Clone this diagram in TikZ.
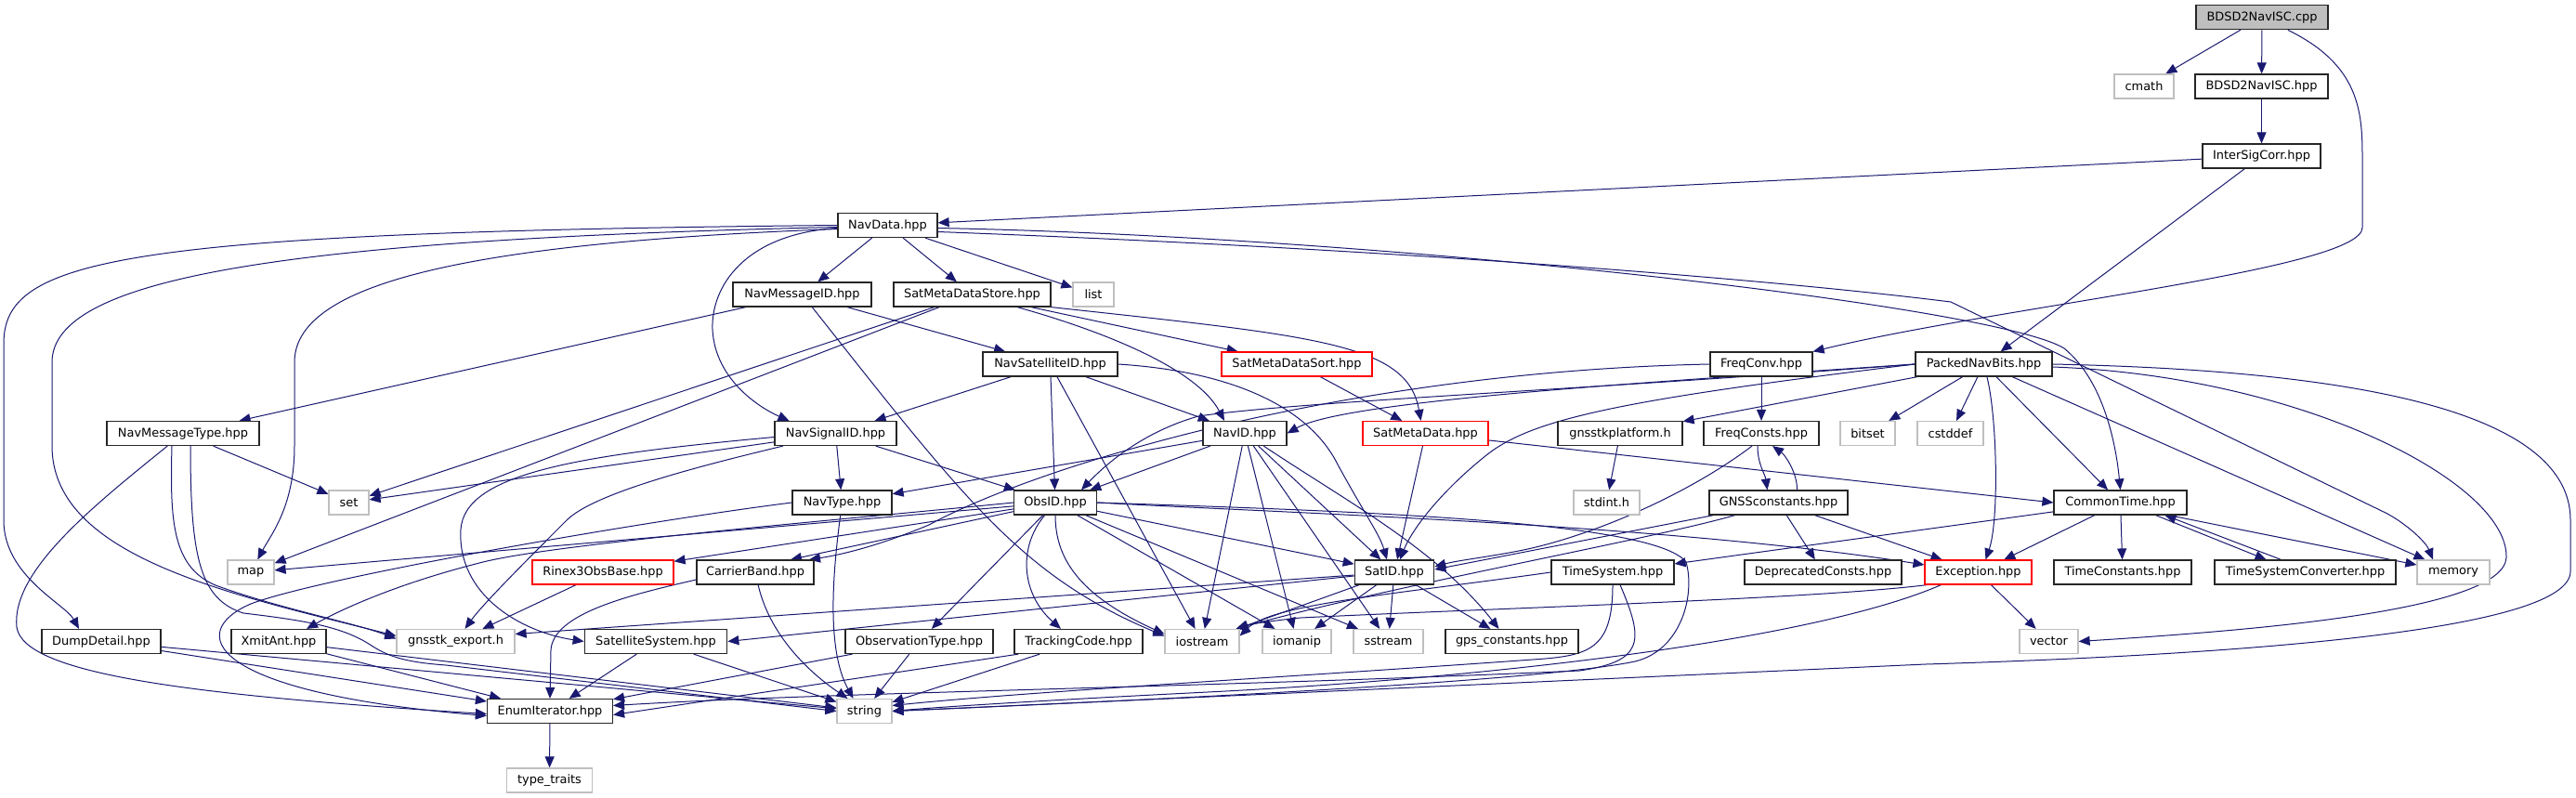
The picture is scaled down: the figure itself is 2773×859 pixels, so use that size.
\documentclass[tikz,border=0pt]{standalone}
\usepackage{fontspec}
\setmainfont{DejaVu Sans}
\usetikzlibrary{arrows.meta}
\definecolor{edgec}{HTML}{191970}
\definecolor{grayb}{HTML}{BFBFBF}
\pgfdeclarelayer{bg}
\pgfsetlayers{bg,main}
\begin{document}
\begin{tikzpicture}[x=1pt,y=-1pt,
  nd/.style={draw=black!85, line width=1.2pt, fill=white, minimum height=26pt, inner sep=0pt, font=\fontsize{12.9pt}{15pt}\selectfont},
  gy/.style={nd, draw=grayb},
  rd/.style={nd, draw=red},
  root/.style={nd, fill=grayb},
  mw/.style={minimum width=#1pt},
  e/.style={edgec, line width=1pt, -{Triangle[length=12pt,width=10pt]}},
]
\useasboundingbox (0,0) rectangle (2773,859);
\node[root,mw=142] (cpp) at (2435,18.7) {BDSD2NavISC.cpp};
\node[gy,mw=64] (cmath) at (2308,93) {cmath};
\node[nd,mw=143] (bdhpp) at (2434.5,93) {BDSD2NavISC.hpp};
\node[nd,mw=127] (isc) at (2434.5,168) {InterSigCorr.hpp};
\node[nd,mw=107] (navdata) at (955.5,242.5) {NavData.hpp};
\node[nd,mw=149] (navmsgid) at (863.5,317) {NavMessageID.hpp};
\node[nd,mw=169] (smds) at (1046.5,317) {SatMetaDataStore.hpp};
\node[gy,mw=44] (list) at (1177,317) {list};
\node[nd,mw=145] (navsatid) at (1130.5,392) {NavSatelliteID.hpp};
\node[rd,mw=162] (smdsort) at (1396,392) {SatMetaDataSort.hpp};
\node[nd,mw=110] (freqconv) at (1896,392) {FreqConv.hpp};
\node[nd,mw=147] (packed) at (2135.5,392) {PackedNavBits.hpp};
\node[nd,mw=164] (navmsgtype) at (197,466.5) {NavMessageType.hpp};
\node[nd,mw=131] (navsigid) at (899.5,466.5) {NavSignalID.hpp};
\node[nd,mw=90] (navid) at (1340,466.5) {NavID.hpp};
\node[rd,mw=135] (smd) at (1534.5,466.5) {SatMetaData.hpp};
\node[nd,mw=134] (platform) at (1744,466.5) {gnsstkplatform.h};
\node[nd,mw=124] (freqconsts) at (1896,466.5) {FreqConsts.hpp};
\node[gy,mw=59] (bitset) at (2010.5,466.5) {bitset};
\node[gy,mw=71] (cstddef) at (2099.5,466.5) {cstddef};
\node[gy,mw=43] (set) at (375.5,541) {set};
\node[nd,mw=107] (navtype) at (906.5,541) {NavType.hpp};
\node[nd,mw=89] (obsid) at (1136,541) {ObsID.hpp};
\node[gy,mw=71] (stdint) at (1729.5,541) {stdint.h};
\node[nd,mw=149] (gnssconst) at (1914.5,541) {GNSSconstants.hpp};
\node[nd,mw=143] (commontime) at (2282.5,541) {CommonTime.hpp};
\node[gy,mw=50] (map) at (270,616) {map};
\node[rd,mw=152] (rinex) at (649,616) {Rinex3ObsBase.hpp};
\node[nd,mw=126] (carrier) at (813,616) {CarrierBand.hpp};
\node[nd,mw=85.5] (satid) at (1501,616) {SatID.hpp};
\node[nd,mw=132] (timesystem) at (1736,616) {TimeSystem.hpp};
\node[nd,mw=169] (deprecated) at (1962.5,616) {DeprecatedConsts.hpp};
\node[rd,mw=115] (exception) at (2129.5,616) {Exception.hpp};
\node[nd,mw=148] (timeconst) at (2285,616) {TimeConstants.hpp};
\node[nd,mw=195] (tsconv) at (2481.5,616) {TimeSystemConverter.hpp};
\node[gy,mw=78] (memory) at (2641,616) {memory};
\node[nd,mw=128] (dumpdetail) at (109,690.5) {DumpDetail.hpp};
\node[nd,mw=102] (xmitant) at (300,690.5) {XmitAnt.hpp};
\node[gy,mw=127] (gnsstk) at (490.5,690.5) {gnsstk\_export.h};
\node[nd,mw=153.5] (satsys) at (706,690.5) {SatelliteSystem.hpp};
\node[nd,mw=159] (obstype) at (989.5,690.5) {ObservationType.hpp};
\node[nd,mw=138] (tracking) at (1161,690.5) {TrackingCode.hpp};
\node[gy,mw=80] (iostream) at (1294,690.5) {iostream};
\node[gy,mw=74] (iomanip) at (1396,690.5) {iomanip};
\node[gy,mw=75] (sstream) at (1494.5,690.5) {sstream};
\node[nd,mw=143] (gpsconst) at (1627.5,690.5) {gps\_constants.hpp};
\node[gy,mw=63] (vector) at (2205.5,690.5) {vector};
\node[nd,mw=135] (enumiter) at (592,765.5) {EnumIterator.hpp};
\node[gy,mw=59] (string) at (930.5,765.5) {string};
\node[gy,mw=92] (typetraits) at (591.5,840) {type\_traits};

\begin{pgfonlayer}{bg}
\fill[white] (0,0) rectangle (2773,859);
% top
\draw[e] (cpp) -- (cmath);
\draw[e] (cpp) -- (bdhpp);
\draw[e] (cpp) .. controls (2540,70) and (2543,120) .. (2543,170) -- (2543,245) .. controls (2543,290) and (2150,330) .. (freqconv);
\draw[e] (bdhpp) -- (isc);
\draw[e] (isc) -- (navdata);
\draw[e] (isc) -- (packed);
% NavData
\draw[e] (navdata) -- (navmsgid);
\draw[e] (navdata) -- (smds);
\draw[e] (navdata) -- (list);
\draw[e] ([yshift=-3pt]navdata.west) .. controls (800,252) and (765,310) .. (767,355) .. controls (770,410) and (820,440) .. ([xshift=-50pt]navsigid.north);
\draw[e] ([yshift=-4pt]navdata.west) .. controls (480,262) and (317,310) .. (317,390) -- (317,480) .. controls (317,545) and (292,575) .. (map);
\draw[e] ([yshift=-2pt]navdata.west) .. controls (300,258) and (56,300) .. (56,390) -- (56,480) .. controls (56,600) and (250,640) .. ([yshift=6pt]gnsstk.west);
\draw[e] (navdata.west) .. controls (120,250) and (4,280) .. (4,370) -- (4,560) .. controls (4,620) and (70,650) .. ([xshift=-24pt]dumpdetail.north);
\draw[e] ([yshift=-3pt]navdata.east) .. controls (1500,255) and (2150,330) .. (2222,375) .. controls (2265,410) and (2278,480) .. (commontime.north);
\draw[e] ([yshift=-7pt]navdata.east) .. controls (1500,268) and (1900,300) .. (2100,325) -- (2570,553) .. controls (2595,567) and (2612,585) .. ([xshift=-22pt]memory.north);
% NavMessageID
\draw[e] (navmsgid) -- (navmsgtype);
\draw[e] (navmsgid) -- (navsatid);
\draw[e] (navmsgid) .. controls (1040,540) and (1100,620) .. ([yshift=6pt]iostream.west);
% SatMetaDataStore
\draw[e] (smds) -- (set);
\draw[e] (smds) -- (map);
\draw[e] (smds) .. controls (1200,360) and (1290,400) .. ([xshift=-22pt]navid.north);
\draw[e] (smds) -- (smdsort);
\draw[e] (smds.south east) .. controls (1420,362) and (1515,370) .. ([xshift=-5pt]smd.north);
\draw[e] (smdsort) -- (smd);
% NavSatelliteID
\draw[e] (navsatid) -- (navsigid);
\draw[e] (navsatid) -- (obsid);
\draw[e] (navsatid) -- (navid);
\draw[e] (navsatid) -- (iostream);
\draw[e] (navsatid.east) .. controls (1330,400) and (1410,440) .. (1440,500) .. controls (1470,555) and (1485,575) .. ([xshift=-8pt]satid.north);
% FreqConv
\draw[e] (freqconv) -- (freqconsts);
\draw[e] (freqconv.west) .. controls (1450,400) and (1120,500) .. (1000,565) .. controls (940,590) and (900,598) .. ([xshift=58pt]carrier.north);
% PackedNavBits
\draw[e] (packed.west) .. controls (1700,420) and (1400,432) .. (1290,448) .. controls (1230,465) and (1190,500) .. ([xshift=28pt]obsid.north);
\draw[e] (packed.west) .. controls (1800,410) and (1450,430) .. (navid.east);
\draw[e] (packed.west) .. controls (1750,430) and (1650,450) .. (1600,490) .. controls (1550,530) and (1520,570) .. ([xshift=6pt]satid.north);
\draw[e] (packed) -- (platform);
\draw[e] (packed) -- (bitset);
\draw[e] (packed) -- (cstddef);
\draw[e] (packed) -- (commontime);
\draw[e] (packed) .. controls (2150,450) and (2152,560) .. ([xshift=8pt]exception.north);
\draw[e] (packed) -- (memory);
\draw[e] ([yshift=-3pt]packed.east) .. controls (2480,405) and (2700,520) .. (2698,600) .. controls (2695,660) and (2400,680) .. (vector.east);
\draw[e] (packed.east) .. controls (2600,400) and (2767,460) .. (2767,560) -- (2767,615) .. controls (2767,680) and (2400,705) .. (2073,715) -- (string.east);
% NavMessageType
\draw[e] (navmsgtype) -- (set);
\draw[e] (navmsgtype) .. controls (100,545) and (12,615) .. (18,675) .. controls (25,725) and (200,748) .. ([yshift=-3pt]enumiter.west);
\draw[e] ([xshift=-12pt]navmsgtype.south) .. controls (183,560) and (185,610) .. (232,630) .. controls (300,655) and (380,670) .. ([yshift=3pt]gnsstk.west);
\draw[e] ([xshift=8pt]navmsgtype.south) .. controls (205,600) and (215,645) .. (262,660) .. controls (330,668) and (370,675) .. (400,695) .. controls (420,708) and (440,713) .. (480,716) -- (string.west);
% NavSignalID
\draw[e] (navsigid) -- (navtype);
\draw[e] (navsigid) -- (obsid);
\draw[e] (navsigid) -- (set);
\draw[e] ([yshift=-4pt]navsigid.west) .. controls (620,490) and (500,510) .. (496,570) .. controls (492,640) and (560,680) .. (satsys.west);
\draw[e] (navsigid) .. controls (760,500) and (640,530) .. (610,560) .. controls (570,600) and (520,650) .. ([xshift=10pt]gnsstk.north);
% NavID
\draw[e] (navid) -- (navtype);
\draw[e] (navid) -- (obsid);
\draw[e] (navid) -- (iostream);
\draw[e] (navid) -- (iomanip);
\draw[e] (navid) -- (satid);
\draw[e] (navid) -- (sstream);
\draw[e] (navid) .. controls (1450,540) and (1545,590) .. ([xshift=-14pt]gpsconst.north);
% SatMetaData
\draw[e] (smd) -- (satid);
\draw[e] (smd) -- (commontime.west);
% misc rank 6/7
\draw[e] (platform) -- (stdint);
\draw[e] ([xshift=-4pt]freqconsts.south) .. controls (1892,500) and (1900,510) .. ([xshift=-12pt]gnssconst.north);
\draw[e] ([xshift=20pt]gnssconst.north) .. controls (1935,510) and (1922,490) .. ([xshift=12pt]freqconsts.south);
\draw[e] ([xshift=-10pt]freqconsts.south) .. controls (1820,530) and (1720,575) .. (1640,592) .. controls (1600,600) and (1570,603) .. ([yshift=6pt]satid.east);
\draw[e] (gnssconst) -- ([yshift=3pt]satid.east);
\draw[e] (gnssconst) -- (deprecated);
\draw[e] (gnssconst) -- (exception);
\draw[e] (gnssconst) .. controls (1780,580) and (1500,630) .. ([xshift=-4pt]iostream.north east);
% NavType
\draw[e] (navtype.west) .. controls (700,560) and (350,620) .. (270,650) .. controls (200,680) and (220,745) .. ([yshift=-5pt]enumiter.west);
\draw[e] (navtype) .. controls (896,620) and (890,700) .. ([xshift=-12pt]string.north);
% ObsID
\draw[e] (obsid) -- (map);
\draw[e] (obsid) -- (rinex);
\draw[e] (obsid) -- ([xshift=38pt]carrier.north);
\draw[e] (obsid.west) .. controls (900,560) and (600,585) .. (520,605) .. controls (420,630) and (360,660) .. ([xshift=30pt]xmitant.north);
\draw[e] (obsid) -- (obstype);
\draw[e] (obsid) .. controls (1095,590) and (1100,640) .. ([xshift=-19pt]tracking.north);
\draw[e] (obsid) .. controls (1136,600) and (1160,640) .. ([yshift=8pt]iostream.west);
\draw[e] (obsid) -- (iomanip);
\draw[e] (obsid) -- (sstream);
\draw[e] (obsid) -- (satid);
\draw[e] (obsid.east) .. controls (1400,553) and (1800,565) .. ([yshift=8pt]exception.west);
\draw[e] (obsid.east) .. controls (1450,550) and (1780,560) .. (1815,605) .. controls (1825,640) and (1810,700) .. (1760,712) .. controls (1650,735) and (1200,755) .. (string.east);
% CommonTime
\draw[e] (commontime) -- (timesystem);
\draw[e] (commontime) -- (exception);
\draw[e] (commontime) -- (timeconst);
\draw[e] ([xshift=38pt]commontime.south) -- ([xshift=-42pt]tsconv.north);
\draw[e] ([xshift=-26pt]tsconv.north) -- ([xshift=48pt]commontime.south);
\draw[e] ([xshift=-20pt]commontime.south east) -- ([yshift=8pt]memory.west);
% rank 8
\draw[e] (rinex) -- (gnsstk);
\draw[e] ([yshift=-8pt]carrier.west) .. controls (680,640) and (595,660) .. (593,700) -- (enumiter.north);
\draw[e] (carrier) .. controls (830,690) and (880,730) .. ([xshift=-18pt]string.north);
\draw[e] ([yshift=-4pt]satid.west) -- (satsys.east);
\draw[e] (satid) -- ([yshift=8pt]gnsstk.east);
\draw[e] (satid) -- (iostream);
\draw[e] (satid) -- (iomanip);
\draw[e] (satid) -- (sstream);
\draw[e] (satid) -- (gpsconst);
\draw[e] (timesystem.west) .. controls (1500,640) and (1370,650) .. ([yshift=6pt]iostream.east);
\draw[e] (timesystem.south) .. controls (1736,700) and (1710,706) .. (1650,710) .. controls (1400,728) and (1100,745) .. ([yshift=6pt]string.east);
\draw[e] ([xshift=8pt]timesystem.south) .. controls (1770,690) and (1770,712) .. (1700,722) .. controls (1300,740) and (900,745) .. ([yshift=6pt]enumiter.east);
\draw[e] ([xshift=3pt]exception.south west) .. controls (1950,645) and (1600,655) .. (1400,665) .. controls (1370,668) and (1345,672) .. ([xshift=-4pt]iostream.north east);
\draw[e] ([xshift=-40pt]exception.south) .. controls (1950,690) and (1600,730) .. (1300,745) .. controls (1100,755) and (1000,762) .. (string.east);
\draw[e] (exception) -- (vector);
% rank 9
\draw[e] (dumpdetail) -- (enumiter);
\draw[e] (dumpdetail) -- (string);
\draw[e] (xmitant) -- (enumiter);
\draw[e] (xmitant) -- (string);
\draw[e] (satsys) -- (enumiter);
\draw[e] (satsys) -- (string);
\draw[e] (obstype) -- (enumiter);
\draw[e] (obstype) -- (string);
\draw[e] ([xshift=5pt]tracking.south west) -- ([yshift=-4pt]enumiter.east);
\draw[e] (tracking) -- (string);
\draw[e] (enumiter) -- (typetraits);
\end{pgfonlayer}
\end{tikzpicture}
\end{document}
